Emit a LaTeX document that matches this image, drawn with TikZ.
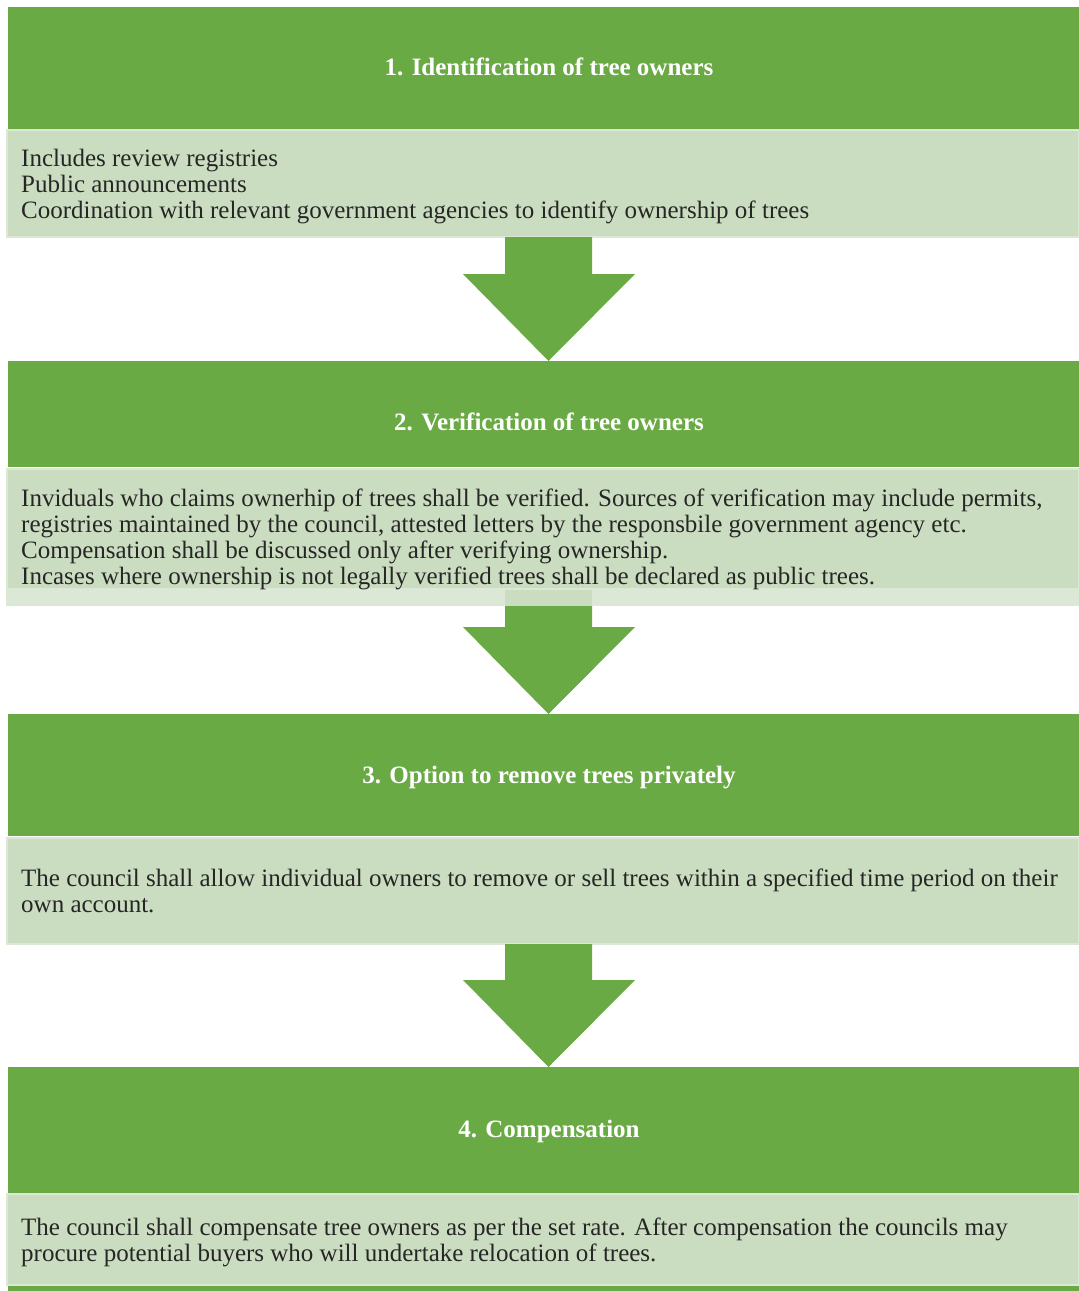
\documentclass[tikz,border=0pt]{standalone}
\usepackage{fontspec}
\setmainfont{Liberation Serif}
\usetikzlibrary{calc}
\definecolor{hdr}{HTML}{6AAA44}
\definecolor{bodyfill}{HTML}{CBDDC0}
\definecolor{bodyline}{HTML}{DCE8D6}
\newcommand\flowarrow[2]{%
  \fill[hdr] let \p1=(#1.south -| ax), \p2=(#2.north -| ax) in
  (\x1-43.5pt,\y1) -- (\x1+43.5pt,\y1) -- (\x1+43.5pt,\y2+87pt) -- (\x1+86.5pt,\y2+87pt)
  -- (\x2,\y2) -- (\x1-85.5pt,\y2+87pt) -- (\x1-43.5pt,\y2+87pt) -- cycle;}
\begin{document}
\begin{tikzpicture}[x=1pt,y=-1pt,
  hdrbox/.style={fill=hdr, draw=none, anchor=north west, minimum width=1071pt, inner sep=0pt, outer sep=0pt},
  bodybox/.style={fill=bodyfill, draw=bodyline, line width=2pt, anchor=north west, minimum width=1072pt, inner sep=0pt, outer sep=0pt},
  hdrtext/.style={font=\fontsize{25}{26}\selectfont\bfseries, text=white, anchor=base, inner sep=0pt},
  bodytext/.style={font=\fontsize{25}{26}\selectfont, text=black!85, align=left, anchor=base west, inner sep=0pt}]
\useasboundingbox (0,0) rectangle (1079,1291);
\coordinate (ax) at (548.5,0);
% boxes
\node[hdrbox, minimum height=122pt] (h1) at (8,7) {};
\node[bodybox, minimum height=107pt] (b1) at (7,130) {};
\node[hdrbox, minimum height=106pt] (h2) at (8,361) {};
\node[bodybox, minimum height=120pt] (b2) at (7,469) {};
\node[fill=bodyline, anchor=north west, minimum width=1073pt, minimum height=16pt, inner sep=0pt, outer sep=0pt] (b2band) at (6,590) {};
\fill[bodyfill] (505,590) rectangle (592,606);
\node[hdrbox, minimum height=122pt] (h3) at (8,714) {};
\node[bodybox, minimum height=106pt] (b3) at (7,838) {};
\node[hdrbox, minimum height=126pt] (h4) at (8,1067) {};
\node[bodybox, minimum height=91pt] (b4) at (7,1194) {};
\node[hdrbox, minimum height=6pt] (h5) at (8,1286) {};
% arrows
\flowarrow{b1}{h2}
\flowarrow{b2band}{h3}
\flowarrow{b3}{h4}
% texts (base anchor = last line's baseline)
\node[hdrtext] (th1) at (549,75) {1. Identification of tree owners};
\node[bodytext] (tb1) at (21,218) {Includes review registries\\Public announcements\\Coordination with relevant government agencies to identify ownership of trees};
\node[hdrtext] (th2) at (549,430) {2. Verification of tree owners};
\node[bodytext] (tb2) at (21,584) {Inviduals who claims ownerhip of trees shall be verified. Sources of verification may include permits,\\registries maintained by the council, attested letters by the responsbile government agency etc.\\Compensation shall be discussed only after verifying ownership.\\Incases where ownership is not legally verified trees shall be declared as public trees.};
\node[hdrtext] (th3) at (549,783) {3. Option to remove trees privately};
\node[bodytext] (tb3) at (21,912) {The council shall allow individual owners to remove or sell trees within a specified time period on their\\own account.};
\node[hdrtext] (th4) at (549,1137) {4. Compensation};
\node[bodytext] (tb4) at (21,1261) {The council shall compensate tree owners as per the set rate. After compensation the councils may\\procure potential buyers who will undertake relocation of trees.};
\end{tikzpicture}
\end{document}
